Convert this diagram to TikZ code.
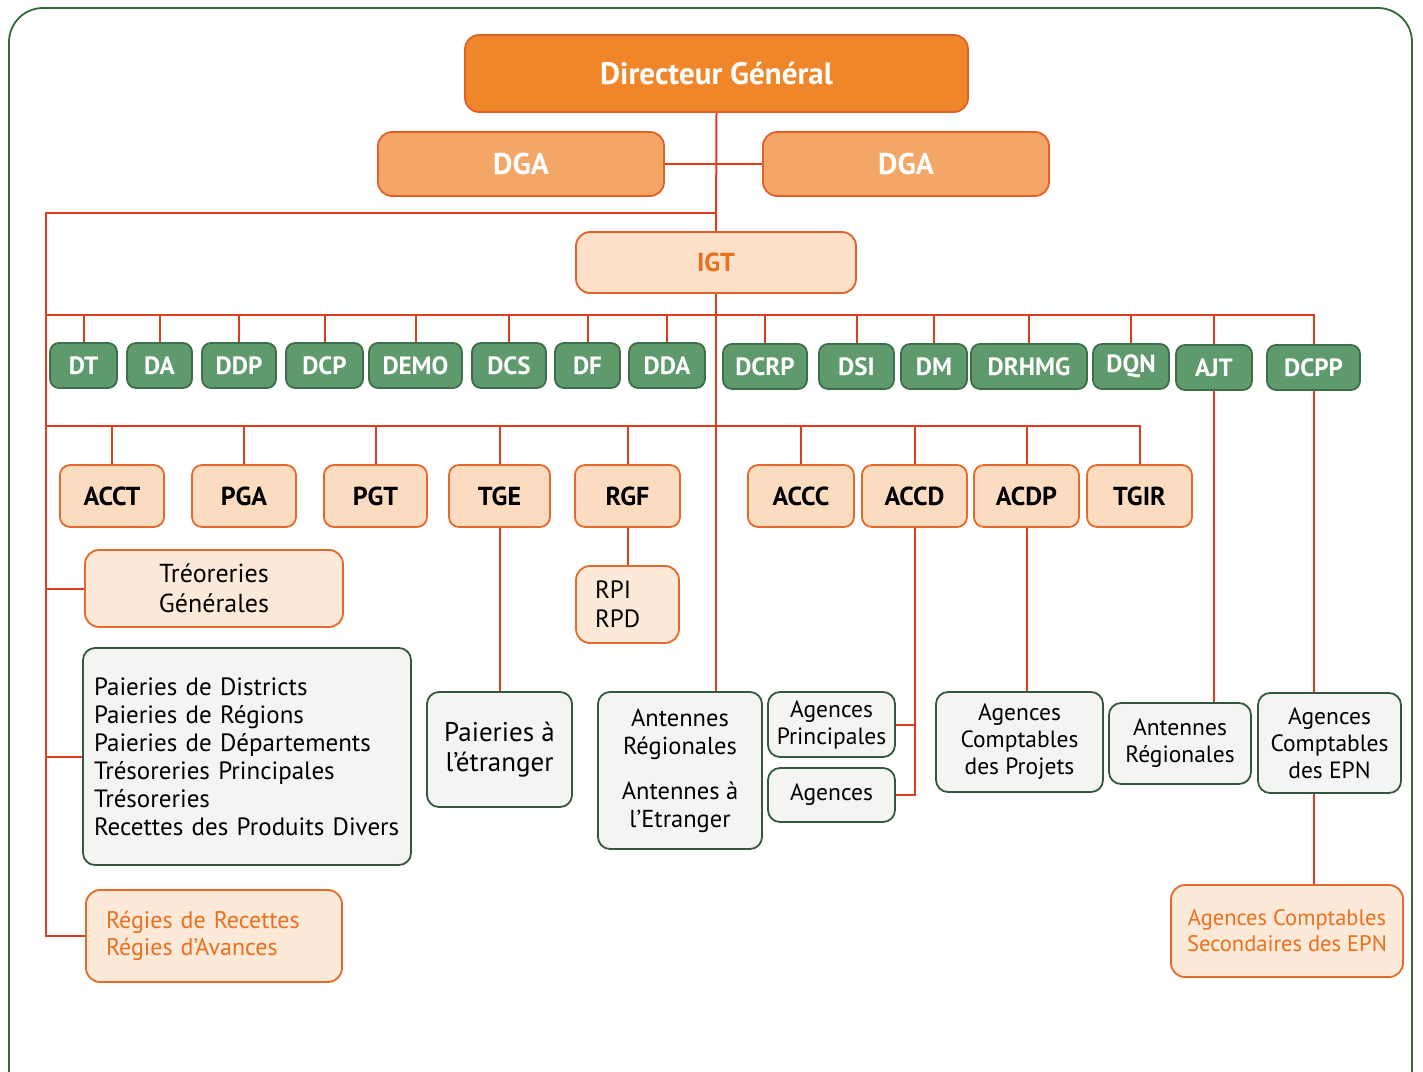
\documentclass[tikz,border=0pt]{standalone}
\usepackage{fontspec}
\setmainfont{PT Sans}
\definecolor{dgfill}{HTML}{F0862A}
\definecolor{dgline}{HTML}{E0622A}
\definecolor{dgafill}{HTML}{F4A666}
\definecolor{igtfill}{HTML}{FCE0C8}
\definecolor{peach}{HTML}{FCDCC0}
\definecolor{treofill}{HTML}{FDE9D8}
\definecolor{orline}{HTML}{E4692A}
\definecolor{gfill}{HTML}{5E9A6C}
\definecolor{gline}{HTML}{3E6E4A}
\definecolor{wfill}{HTML}{F4F5F2}
\definecolor{wline}{HTML}{34583E}
\definecolor{conn}{HTML}{DC3E1E}
\definecolor{framec}{HTML}{2F6A38}
\definecolor{ortext}{HTML}{EA6F1E}
\newcommand\fsz[2]{\fontsize{#1}{#2}\selectfont}
\newcommand\orgbox[7]{\node[#6, minimum width={(#4-#2)*1pt}, minimum height={(#5-#3)*1pt}] (#1) at ({(#2+#4)/2},{(#3+#5)/2}) {#7};}
\tikzset{
  base/.style={inner sep=0pt, line width=1.8pt},
  dgs/.style={base, fill=dgfill, draw=dgline, rounded corners=14pt, text=white, font=\fsz{31}{36}\bfseries},
  dgas/.style={base, fill=dgafill, draw=dgline, rounded corners=14pt, text=white, font=\fsz{30}{34}\bfseries},
  igts/.style={base, fill=igtfill, draw=dgline, rounded corners=14pt, text=ortext, font=\fsz{26}{30}\bfseries},
  gs/.style={base, fill=gfill, draw=gline, rounded corners=9pt, text=white, font=\fsz{25}{28}\bfseries},
  os/.style={base, fill=peach, draw=orline, rounded corners=10pt, text=black, font=\fsz{26}{28}\bfseries},
  ts/.style={base, fill=treofill, draw=orline, rounded corners=14pt, text=black, font=\fsz{26}{30}, align=center},
  ws/.style={base, fill=wfill, draw=wline, rounded corners=12pt, text=black, font=\fsz{24.5}{28}, align=center},
  wl/.style={ws, align=left},
  rs/.style={base, fill=treofill, draw=orline, rounded corners=14pt, text=ortext, font=\fsz{24}{27}, align=left},
  conline/.style={draw=conn, line width=2pt},
}
\begin{document}
\begin{tikzpicture}[x=1pt, y=-1pt]
\useasboundingbox (0,0) rectangle (1423,1071);
% frame
\draw[framec, line width=1.8pt, rounded corners=34pt] (9,1080) -- (9,8) -- (1412,8) -- (1412,1080);

% top
\orgbox{dg}{465}{35}{968}{112}{dgs}{Directeur Général}
\orgbox{dga1}{378}{132}{664}{196}{dgas}{DGA}
\orgbox{dga2}{763}{132}{1049}{196}{dgas}{DGA}
\orgbox{igt}{576}{232}{856}{293}{igts}{IGT}

% green row
\orgbox{dt}{50}{343}{117}{388}{gs}{DT}
\orgbox{da}{127}{343}{192}{388}{gs}{DA}
\orgbox{ddp}{202}{343}{276}{388}{gs}{DDP}
\orgbox{dcp}{286}{343}{363}{388}{gs}{DCP}
\orgbox{demo}{369}{343}{462}{388}{gs}{DEMO}
\orgbox{dcs}{472}{343}{546}{388}{gs}{DCS}
\orgbox{df}{555}{343}{620}{388}{gs}{DF}
\orgbox{dda}{629}{343}{705}{388}{gs}{DDA}
\orgbox{dcrp}{723}{344}{807}{389}{gs}{DCRP}
\orgbox{dsi}{819}{344}{894}{389}{gs}{DSI}
\orgbox{dm}{901}{344}{967}{389}{gs}{DM}
\orgbox{drhmg}{971}{344}{1087}{389}{gs}{DRHMG}
\orgbox{dqn}{1093}{344}{1169}{389}{gs}{DQN}
\orgbox{ajt}{1176}{345}{1252}{390}{gs}{AJT}
\orgbox{dcpp}{1267}{345}{1360}{390}{gs}{DCPP}

% orange row
\orgbox{acct}{60}{465}{164}{527}{os}{ACCT}
\orgbox{pga}{192}{465}{296}{527}{os}{PGA}
\orgbox{pgt}{324}{465}{427}{527}{os}{PGT}
\orgbox{tge}{449}{465}{550}{527}{os}{TGE}
\orgbox{rgf}{575}{465}{680}{527}{os}{RGF}
\orgbox{accc}{748}{465}{854}{527}{os}{ACCC}
\orgbox{accd}{862}{465}{967}{527}{os}{ACCD}
\orgbox{acdp}{974}{465}{1079}{527}{os}{ACDP}
\orgbox{tgir}{1087}{465}{1192}{527}{os}{TGIR}

% lower boxes
\orgbox{treo}{85}{550}{343}{627}{ts}{Tréoreries\\Générales}
\orgbox{paie}{83}{648}{411}{865}{wl, text width=306pt, font=\fsz{25}{28}}{\mbox{Paieries de Districts}\\\mbox{Paieries de Régions}\\\mbox{Paieries de Départements}\\\mbox{Trésoreries Principales}\\\mbox{Trésoreries}\\\mbox{Recettes des Produits Divers}}
\orgbox{regies}{86}{890}{342}{982}{rs, text width=216pt}{Régies de Recettes\\Régies d’Avances}
\orgbox{petr}{427}{692}{572}{807}{ws, font=\fsz{27}{30}}{Paieries à\\l’étranger}
\orgbox{rpi}{576}{566}{679}{643}{base, fill=treofill, draw=orline, rounded corners=14pt, font=\fsz{25}{29}, align=left, text width=65pt}{RPI\\RPD}
\orgbox{antr}{598}{692}{762}{849}{ws}{Antennes\\Régionales\\[17pt]Antennes à\\l’Etranger}
\orgbox{agp}{768}{692}{895}{757}{ws, font=\fsz{23.5}{27}}{Agences\\Principales}
\orgbox{ag}{768}{768}{895}{822}{ws, font=\fsz{23.5}{27}}{Agences}
\orgbox{acp}{936}{692}{1103}{792}{ws, font=\fsz{23.5}{27}}{Agences\\Comptables\\des Projets}
\orgbox{antr2}{1109}{703}{1251}{784}{ws, font=\fsz{23.5}{27}}{Antennes\\Régionales}
\orgbox{epn}{1258}{693}{1401}{793}{ws, font=\fsz{23.5}{27}}{Agences\\Comptables\\des EPN}
\orgbox{sec}{1171}{885}{1403}{977}{base, fill=treofill, draw=orline, rounded corners=14pt, text=ortext, font=\fsz{22.5}{26}, align=center}{Agences Comptables\\Secondaires des EPN}

% coordinates
\coordinate (ltop) at (46,213);
\coordinate (lbot) at (46,936);
\coordinate (bus2) at (46,315);
\coordinate (bus3) at (46,426);

% connectors top
\draw[conline] (dg.south) -- (igt.north);
\draw[conline] (dga1.east) -- (dga2.west);
\draw[conline] (dg.south |- ltop) -- (ltop) -- (lbot) -- (regies.west);
\draw[conline] (treo.west) -- (treo.west -| ltop);
\draw[conline] (paie.west) -- (paie.west -| ltop);
% bus 2
\draw[conline] (bus2) -- (dcpp.north |- bus2) -- (dcpp.north);
\foreach \n in {dt,da,ddp,dcp,demo,dcs,df,dda,dcrp,dsi,dm,drhmg,dqn,ajt}
  \draw[conline] (\n.north) -- (\n.north |- bus2);
% bus 3
\draw[conline] (bus3) -- (tgir.north |- bus3) -- (tgir.north);
\foreach \n in {acct,pga,pgt,tge,rgf,accc,accd,acdp}
  \draw[conline] (\n.north) -- (\n.north |- bus3);
% descending lines
\draw[conline] (igt.south) -- (igt.south |- antr.north);
\draw[conline] (tge.south) -- (petr.north);
\draw[conline] (rgf.south) -- (rpi.north);
\draw[conline] (accd.south) -- (accd.south |- ag.east) -- (ag.east);
\draw[conline] (agp.east) -- (agp.east -| accd.south);
\draw[conline] (acdp.south) -- (acdp.south |- acp.north);
\draw[conline] (ajt.south) -- (ajt.south |- antr2.north);
\draw[conline] (dcpp.south) -- (dcpp.south |- epn.north);
\draw[conline] (dcpp.south |- epn.south) -- (dcpp.south |- sec.north);
\end{tikzpicture}
\end{document}
